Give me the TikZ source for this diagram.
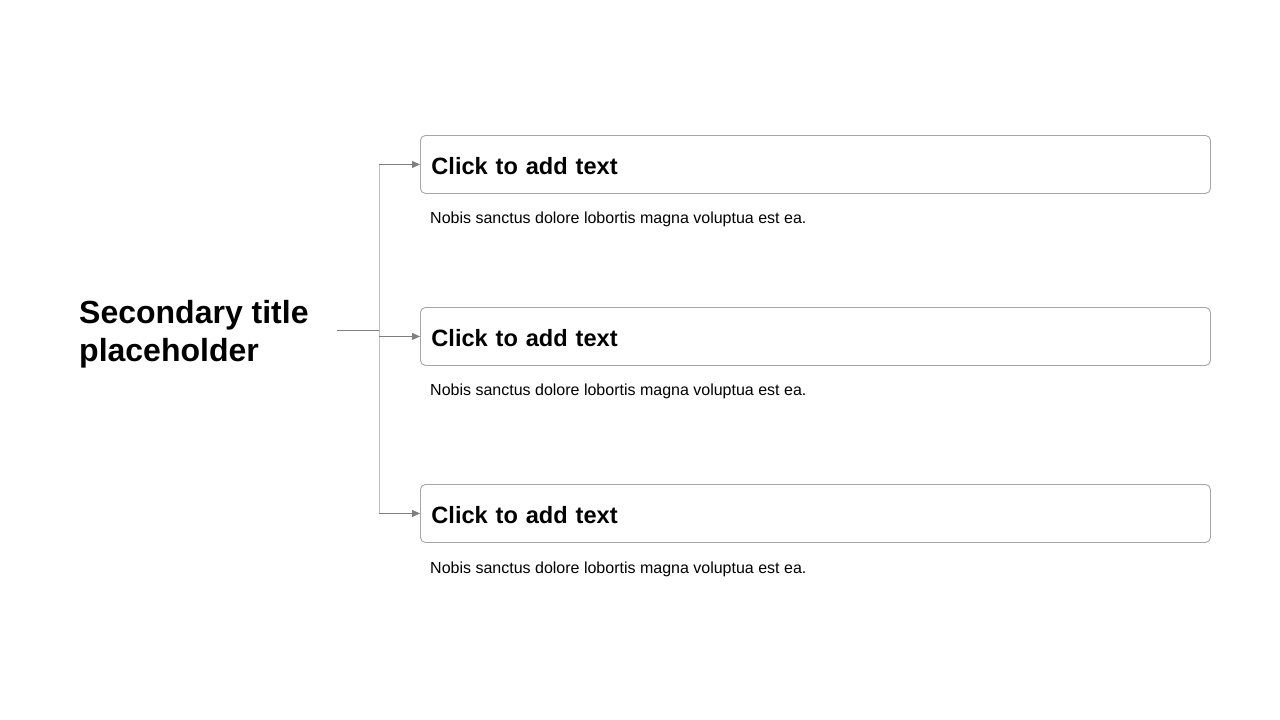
\documentclass[tikz,border=0pt]{standalone}
\usepackage{fontspec}
\setmainfont{Liberation Sans}
\usetikzlibrary{arrows.meta}
\definecolor{boxgray}{HTML}{A6A6A6}
\definecolor{linegray}{HTML}{BFBFBF}
\definecolor{stubgray}{HTML}{7F7F7F}
\tikzset{
  hbox/.style={draw=boxgray, line width=0.9pt, rounded corners=5pt, minimum width=790pt, minimum height=58pt,
    anchor=north west, text width=768pt, inner xsep=11pt, align=left, text height=21pt, text depth=0pt,
    font=\bfseries\fontsize{23.6}{28}\selectfont},
  body/.style={anchor=base west, inner sep=0pt, font=\fontsize{16}{19}\selectfont},
  conn/.style={draw=linegray, line width=1pt},
  arr/.style={draw=stubgray, line width=0.8pt, -{Triangle[length=8pt,width=7pt]}, fill=stubgray}
}
\begin{document}
\begin{tikzpicture}[x=1pt,y=1pt]
\useasboundingbox (0,0) rectangle (1280,-720);
\node[anchor=west, inner sep=0pt, align=left, font=\bfseries\fontsize{32}{38}\selectfont] (title) at (79,-334) {Secondary title\\placeholder};
\coordinate (tstart) at (337,-330);
\coordinate (junc) at (379,-330);
\node[hbox] (b1) at (420,-135) {Click to add text};
\node[hbox] (b2) at (420,-307) {Click to add text};
\node[hbox] (b3) at (420,-484) {Click to add text};
\node[body] (t1) at (430,-223) {Nobis sanctus dolore lobortis magna voluptua est ea.};
\node[body] (t2) at (430,-395) {Nobis sanctus dolore lobortis magna voluptua est ea.};
\node[body] (t3) at (430,-573) {Nobis sanctus dolore lobortis magna voluptua est ea.};
\draw[conn] (junc |- b1.west) -- (junc |- b3.west);
\draw[draw=stubgray, line width=1pt] (tstart) -- (junc);
\draw[arr] (junc |- b1.west) -- (b1.west);
\draw[arr] (junc |- b2.west) -- (b2.west);
\draw[arr] (junc |- b3.west) -- (b3.west);
\end{tikzpicture}
\end{document}
